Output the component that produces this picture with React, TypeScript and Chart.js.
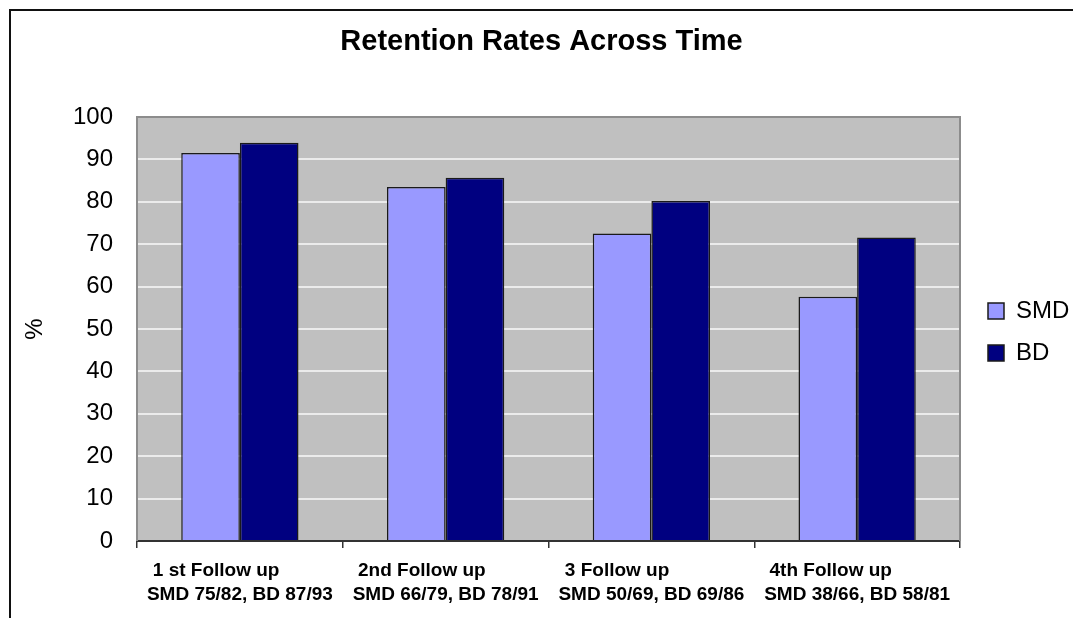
import React, { useEffect, useRef } from "react";
import { Chart, registerables } from "chart.js";

Chart.register(...registerables);

const FAMILY = "'Liberation Sans', Arial, sans-serif";

const TITLE = "Retention Rates Across Time";
const Y_TITLE = "%";
const CATEGORY_NAMES = ["1 st Follow up", "2nd Follow up", "3 Follow up", "4th Follow up"];
const CATEGORY_COUNTS = [
  "SMD 75/82, BD 87/93",
  "SMD 66/79, BD 78/91",
  "SMD 50/69, BD 69/86",
  "SMD 38/66, BD 58/81",
];
const SERIES_NAMES = ["SMD", "BD"];
const SMD_VALUES = [91.5, 83.5, 72.5, 57.6];
const BD_VALUES = [93.9, 85.7, 80.2, 71.6];
const Y_MIN = 0;
const Y_MAX = 100;
const Y_STEP = 10;

const X_FONT_SIZE = 19;
const measureCtx = typeof document !== "undefined" ? document.createElement("canvas").getContext("2d") : null;

// Left-align the first line of a category label with its second line (as in the reference).
function alignFirstLine(first: string, second: string): string {
  if (!measureCtx) return first;
  measureCtx.font = `bold ${X_FONT_SIZE}px ${FAMILY}`;
  const w1 = measureCtx.measureText(first).width;
  const w2 = measureCtx.measureText(second).width;
  const ws = measureCtx.measureText(" ").width;
  const indent = 6;
  const n = Math.max(0, Math.round((w2 - w1 - 2 * indent) / ws));
  return first + " ".repeat(n);
}

const bgPlugin = {
  id: "plotBackground",
  beforeDraw(chart: any) {
    const { ctx, chartArea } = chart;
    if (!chartArea) return;
    ctx.save();
    ctx.fillStyle = "#C0C0C0";
    ctx.fillRect(chartArea.left, chartArea.top, chartArea.right - chartArea.left, chartArea.bottom - chartArea.top);
    ctx.restore();
  },
  beforeDatasetsDraw(chart: any) {
    const { ctx, chartArea } = chart;
    const { left, top, right, bottom } = chartArea;
    ctx.save();
    ctx.strokeStyle = "#8C8C8C";
    ctx.lineWidth = 2;
    ctx.beginPath();
    ctx.moveTo(left, bottom);
    ctx.lineTo(left, top);
    ctx.lineTo(right, top);
    ctx.lineTo(right, bottom);
    ctx.stroke();
    ctx.restore();
  },
  afterDraw(chart: any) {
    const { ctx, width, height } = chart;
    ctx.save();
    ctx.fillStyle = "#111111";
    ctx.fillRect(9, 9, width - 9, 2);
    ctx.fillRect(9, 9, 2, height - 9);
    ctx.restore();
  },
};

const LEGEND_WIDTH = 113;
const LEGEND_SHIFT_X = 10;
const LEGEND_SHIFT_Y = 3;

const legendFix = {
  id: "legendFix",
  beforeLayout(chart: any) {
    const lg = chart.legend;
    if (lg && !lg.__wrapped) {
      const orig = lg.fit.bind(lg);
      lg.fit = function () {
        orig();
        this.width = LEGEND_WIDTH;
      };
      lg.__wrapped = true;
    }
  },
  afterLayout(chart: any) {
    const lg = chart.legend;
    if (!lg) return;
    lg.left += LEGEND_SHIFT_X;
    lg.right += LEGEND_SHIFT_X;
    lg.top += LEGEND_SHIFT_Y;
    lg.bottom += LEGEND_SHIFT_Y;
  },
};

export default function App() {
  const canvasRef = useRef<HTMLCanvasElement | null>(null);

  useEffect(() => {
    if (!canvasRef.current) return;
    const labels = CATEGORY_NAMES.map((name, i) => [name, CATEGORY_COUNTS[i]]);
    const chart = new Chart(canvasRef.current, {
      type: "bar",
      data: {
        labels,
        datasets: [
          {
            label: SERIES_NAMES[0],
            data: SMD_VALUES,
            backgroundColor: "#9999FF",
            borderColor: "#1A1A1A",
            borderWidth: 1.5,
            borderSkipped: "bottom",
            categoryPercentage: 0.57,
            barPercentage: 1.0,
          },
          {
            label: SERIES_NAMES[1],
            data: BD_VALUES,
            backgroundColor: "#000080",
            borderColor: "#1A1A1A",
            borderWidth: 1.5,
            borderSkipped: "bottom",
            categoryPercentage: 0.57,
            barPercentage: 1.0,
          },
        ],
      },
      options: {
        animation: false,
        responsive: false,
        maintainAspectRatio: false,
        layout: { padding: { left: 10, top: 0, right: 0, bottom: 0 } },
        plugins: {
          title: {
            display: true,
            text: TITLE,
            color: "#000",
            font: { family: FAMILY, size: 29, weight: "bold", lineHeight: 1.2 },
            padding: { top: 25, bottom: 57.2 },
          },
          legend: {
            position: "right",
            fullSize: false,
            labels: {
              color: "#000",
              font: { family: FAMILY, size: 24 },
              boxWidth: 16,
              boxHeight: 16,
              padding: 18,
            },
          },
          tooltip: { enabled: false },
        },
        scales: {
          x: {
            grid: {
              display: true,
              drawOnChartArea: false,
              drawTicks: true,
              tickLength: 7,
              color: "#333",
              lineWidth: 1.5,
              offset: true,
            },
            border: { display: true, color: "#333", width: 2 },
            ticks: {
              color: "#000",
              font: { family: FAMILY, size: X_FONT_SIZE, weight: "bold", lineHeight: 1.27 },
              padding: 11,
              maxRotation: 0,
              autoSkip: false,
              callback: function (this: any, _v: any, index: number) {
                return [alignFirstLine(CATEGORY_NAMES[index], CATEGORY_COUNTS[index]), CATEGORY_COUNTS[index]];
              },
            },
            afterFit: (s: any) => {
              s.height = 77;
            },
          },
          y: {
            min: Y_MIN,
            max: Y_MAX,
            ticks: {
              stepSize: Y_STEP,
              color: "#000",
              font: { family: FAMILY, size: 24 },
              padding: 24,
            },
            grid: {
              drawTicks: false,
              color: (ctx: any) =>
                ctx.tick && (ctx.tick.value === Y_MIN || ctx.tick.value === Y_MAX) ? "rgba(0,0,0,0)" : "#EBEBEB",
              lineWidth: 2,
            },
            border: { display: false },
            title: {
              display: true,
              text: Y_TITLE,
              color: "#000",
              font: { family: FAMILY, size: 24 },
              padding: { top: 11, bottom: 0 },
            },
            afterFit: (s: any) => {
              s.width = 127;
            },
          },
        },
      },
      plugins: [bgPlugin, legendFix],
    } as any);
    return () => chart.destroy();
  }, []);

  return (
    <div style={{ position: "absolute", left: 0, top: 0, width: 1073, height: 618, background: "#fff" }}>
      <canvas ref={canvasRef} width={1073} height={618} style={{ display: "block" }} />
    </div>
  );
}
